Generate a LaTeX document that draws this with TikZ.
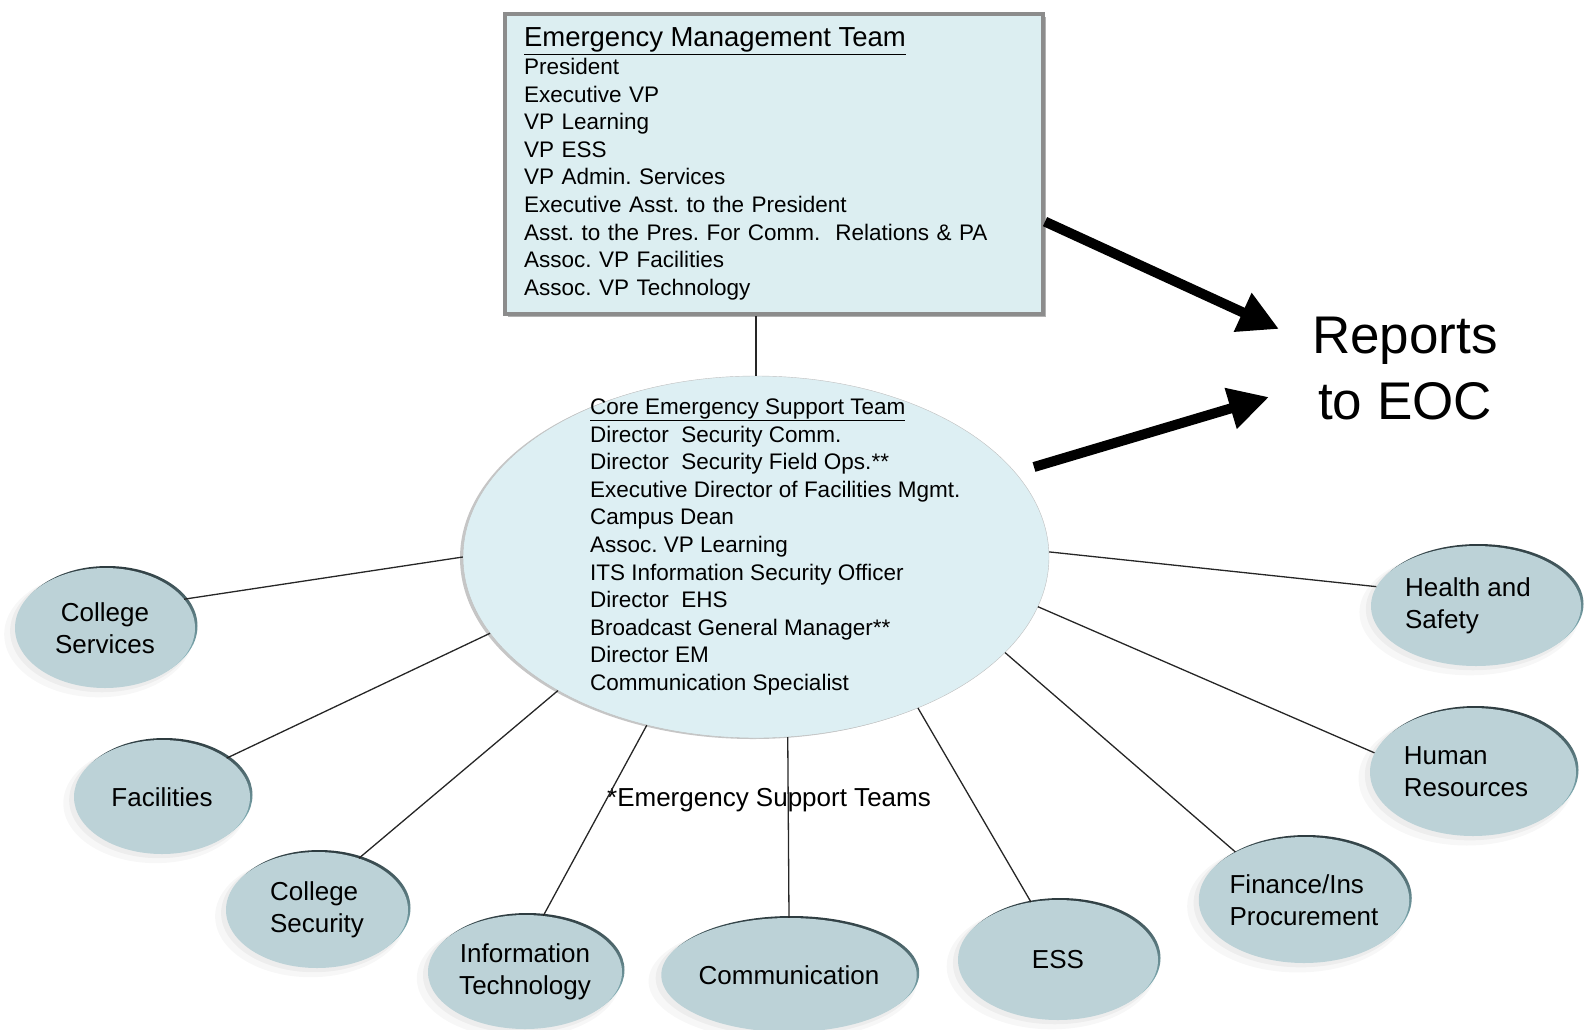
\documentclass[tikz,border=0pt]{standalone}
\usepackage{fontspec}
\setmainfont{Liberation Sans}
\usepackage{xcolor}
\usetikzlibrary{arrows.meta,positioning,calc,shapes.geometric,shadows}
\frenchspacing

\definecolor{teamfill}{HTML}{BCD2D7}
\definecolor{corefill}{HTML}{DDEFF3}
\definecolor{boxfill}{HTML}{DCEEF1}
\definecolor{boxline}{HTML}{8C8C8C}
\definecolor{rimdark}{HTML}{2E3C40}
\definecolor{rimcyan}{HTML}{9FD8E0}

\tikzset{
  emtbox/.style={rectangle, fill=boxfill, draw=boxline, line width=4pt,
    minimum width=538pt, minimum height=300pt, text width=500pt, inner sep=0pt,
    align=left, font=\fontsize{22.5}{27.6}\selectfont,
    general shadow={shadow xshift=3pt, shadow yshift=-3pt, fill=gray!60}},
  core/.style={ellipse, fill=corefill, draw=gray!50, minimum width=586pt,
    minimum height=362pt, inner sep=0pt,
    general shadow={shadow xshift=-3pt, shadow yshift=-1pt, fill=gray!45}},
  team/.style={ellipse, fill=teamfill, inner sep=0pt, align=left,
    font=\fontsize{26}{32}\selectfont,
    general shadow={shadow xshift=-6pt, shadow yshift=-6pt, shadow scale=1.05, fill=black, opacity=0.03},
    general shadow={shadow xshift=-3pt, shadow yshift=-3pt, shadow scale=1.02, fill=black, opacity=0.04},
    general shadow={shadow xshift=2.5pt, shadow yshift=2pt, top color=rimdark, bottom color=rimcyan}},
  link/.style={draw=black!85, line width=1.3pt},
  bigarrow/.style={line width=10pt, -{Triangle[length=40pt,width=40pt]}}
}

\begin{document}
\begin{tikzpicture}[x=1pt,y=-1pt]
  \useasboundingbox (0,0) rectangle (1585,1029);
  % top team
  \node[emtbox] (emt) at (774,164) {{\fontsize{27.5}{27.6}\selectfont\underline{Emergency Management Team}}\\
    President\\ Executive VP\\ VP Learning\\ VP ESS\\ VP Admin. Services\\
    Executive Asst. to the President\\ Asst. to the Pres. For Comm.\ \ Relations \& PA\\
    Assoc. VP Facilities\\ Assoc. VP Technology};
  % core team
  \node[core] (core) at (756,557) {};
  \node[anchor=west, align=left, inner sep=0pt, font=\fontsize{22.5}{27.6}\selectfont] (coretext) at (590,547)
    {\underline{Core Emergency Support Team}\\ Director\ \ Security Comm.\\ Director\ \ Security Field Ops.**\\
     Executive Director of Facilities Mgmt.\\ Campus Dean\\ Assoc. VP Learning\\
     ITS Information Security Officer\\ Director\ \ EHS\\ Broadcast General Manager**\\
     Director EM\\ Communication Specialist};
  % support teams
  \node[team, align=center, minimum width=180pt, minimum height=120pt] (cs)   at (105,628)  {College\\Services};
  \node[team, minimum width=176pt, minimum height=114pt] (fac)  at (162,797)  {Facilities};
  \node[team, minimum width=182pt, minimum height=116pt] (csec) at (317,910)  {College\\Security};
  \node[team, align=center, minimum width=194pt, minimum height=114pt] (it) at (525,972) {Information\\Technology};
  \node[team, minimum width=206pt, minimum height=114pt] (comm) at (789,975)  {Communication};
  \node[team, minimum width=200pt, minimum height=120pt] (ess)  at (1058,960) {ESS};
  \node[team, minimum width=210pt, minimum height=126pt] (fin)  at (1304,900) {Finance/Ins\\Procurement};
  \node[team, minimum width=206pt, minimum height=128pt] (hr)   at (1473,772) {\hspace*{-14pt}Human\\\hspace*{-14pt}Resources};
  \node[team, minimum width=210pt, minimum height=120pt] (hs)   at (1476,606) {\hspace*{-16pt}Health and\\\hspace*{-16pt}Safety};
  \node[font=\fontsize{26}{32}\selectfont] (estlabel) at (769,800) {*Emergency Support Teams};
  \node[align=center, font=\fontsize{53}{66}\selectfont] (eoc) at (1405,369) {Reports\\to EOC};
  % connectors
  \draw[link] (core.north) -- (core.north |- emt.south);
  \draw[link] (core.180) -- (cs.20);
  \draw[link] (core.196) -- (fac.31);
  \draw[link] (core.214.5) -- (csec.51);
  \draw[link] (core.237) -- (it.72);
  \draw[link] (core.280) -- (comm.90);
  \draw[link] (core.317) -- (ess.115);
  \draw[link] (core.339) -- (fin.145);
  \draw[link] (core.350.5) -- (hr.169);
  \draw[link] (core.1.6) -- (hs.169);
  % arrows to EOC
  \coordinate (tipa) at ($(eoc.center)+(-126,-40)$);
  \coordinate (tipb) at ($(eoc.center)+(-136,28)$);
  \draw[bigarrow] (emt.-12.6) -- (tipa);
  \draw[bigarrow] ($(core.center)+(278,-90)$) -- (tipb);
\end{tikzpicture}
\end{document}
